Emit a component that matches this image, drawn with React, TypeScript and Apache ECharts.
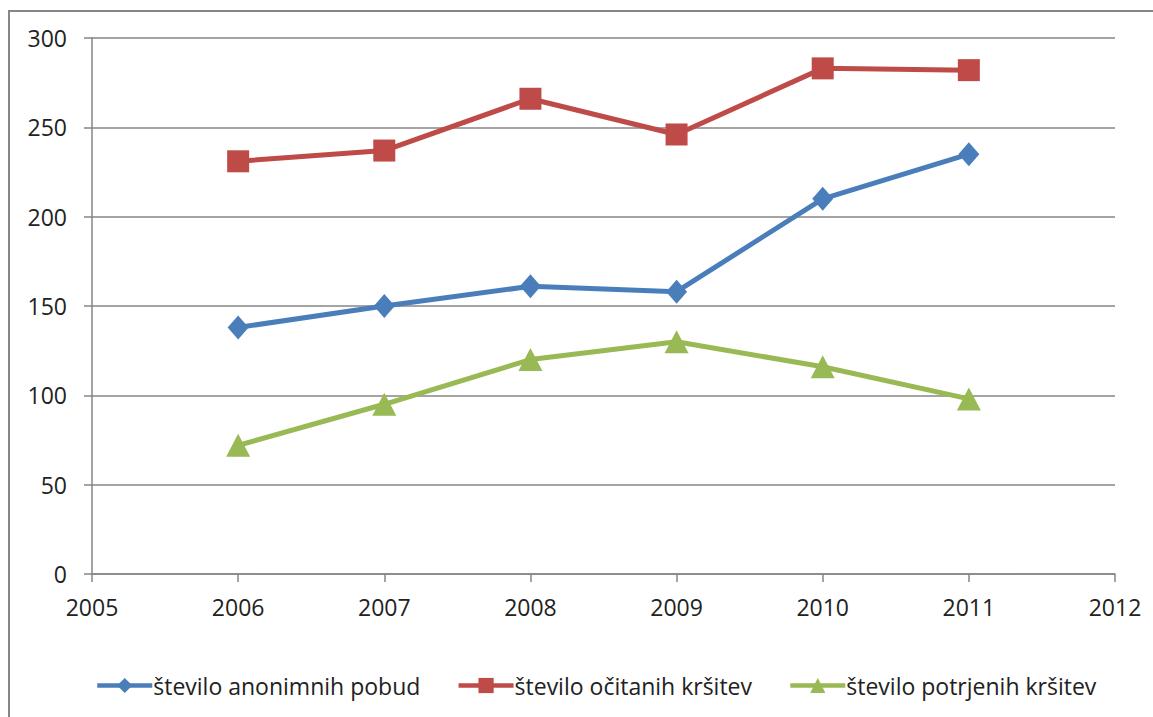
import React, { useEffect, useRef } from "react";
import * as echarts from "echarts";

const years = [2006, 2007, 2008, 2009, 2010, 2011];
const anonimnih = [138, 150, 161, 158, 210, 235];
const ocitanih = [231, 237, 266, 246, 283, 282];
const potrjenih = [72, 95, 120, 130, 116, 98];
const seriesNames = ["število anonimnih pobud", "število očitanih kršitev", "število potrjenih kršitev"];

const FONT = "'Open Sans', 'DejaVu Sans', sans-serif";
const GREY = "#868686";

export default function App() {
  const ref = useRef<HTMLDivElement>(null);
  useEffect(() => {
    document.body.style.margin = "0";
    const chart = echarts.init(ref.current!, null, { renderer: "svg" });
    const pair = (vals: number[]) => years.map((y, i) => [y, vals[i]]);
    chart.setOption({
      animation: false,
      backgroundColor: "#ffffff",
      textStyle: { fontFamily: FONT },
      grid: { left: 92, right: 38, top: 38, bottom: 143 },
      graphic: [
        {
          type: "rect",
          shape: { x: 9, y: 11, width: 1300, height: 900 },
          style: { fill: "none", stroke: GREY, lineWidth: 2 },
          silent: true,
        },
      ],
      legend: {
        left: 90,
        top: 669,
        itemWidth: 55,
        itemHeight: 19,
        itemGap: 36,
        lineStyle: { width: 4.5 },
        textStyle: { fontFamily: FONT, fontSize: 23, color: "#222", padding: [0, 0, 0, -4] },
        data: seriesNames,
      },
      xAxis: {
        type: "value",
        min: 2005,
        max: 2012,
        interval: 1,
        axisLine: { lineStyle: { color: GREY, width: 1.5 } },
        axisTick: { show: true, length: 8, lineStyle: { color: GREY, width: 1.5 } },
        axisLabel: {
          formatter: (v: number) => String(v),
          fontSize: 23,
          color: "#222",
          fontFamily: FONT,
          margin: 21,
        },
        splitLine: { show: false },
      },
      yAxis: {
        type: "value",
        min: 0,
        max: 300,
        interval: 50,
        axisLine: { show: true, lineStyle: { color: GREY, width: 1.5 } },
        axisTick: { show: true, length: 8, lineStyle: { color: GREY, width: 1.5 } },
        axisLabel: { fontSize: 23, color: "#222", fontFamily: FONT, margin: 25 },
        splitLine: { show: true, lineStyle: { color: GREY, width: 1.5 } },
      },
      series: [
        {
          name: seriesNames[0],
          type: "line",
          data: pair(anonimnih),
          symbol: "diamond",
          symbolSize: [21, 24],
          lineStyle: { color: "#4A7EBB", width: 5 },
          itemStyle: { color: "#4A7EBB" },
        },
        {
          name: seriesNames[1],
          type: "line",
          data: pair(ocitanih),
          symbol: "rect",
          symbolSize: 22,
          lineStyle: { color: "#BE4B48", width: 5 },
          itemStyle: { color: "#BE4B48" },
        },
        {
          name: seriesNames[2],
          type: "line",
          data: pair(potrjenih),
          symbol: "triangle",
          symbolSize: [24, 23],
          lineStyle: { color: "#98B954", width: 5 },
          itemStyle: { color: "#98B954" },
        },
      ],
    });
    return () => chart.dispose();
  }, []);
  return <div ref={ref} style={{ position: "absolute", left: 0, top: 0, width: 1153, height: 717 }} />;
}
